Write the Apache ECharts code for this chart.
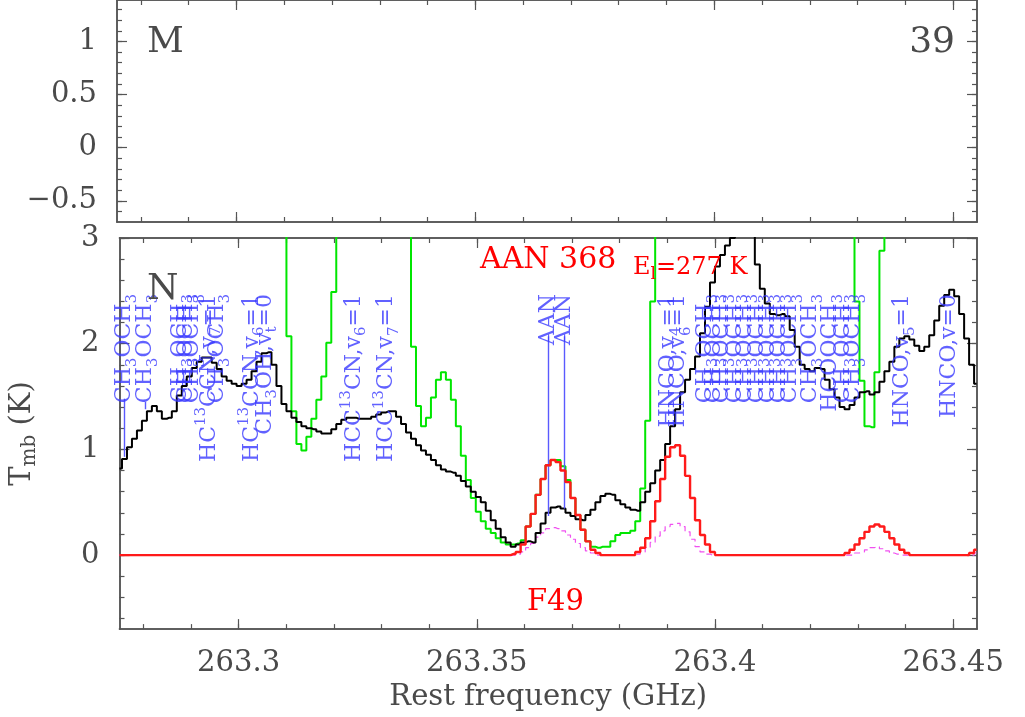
<!DOCTYPE html>
<html><head><meta charset="utf-8">
<script src="https://cdn.jsdelivr.net/npm/echarts@6/dist/echarts.min.js"></script>
<style>html,body{margin:0;padding:0;background:#fff}#c{width:1025px;height:717px}</style>
</head><body><div id="c"></div>
<script>
// ---------------- data ----------------
const channelStart = 263.275;      // GHz, first channel
const channelWidth = 0.001046;     // GHz per channel

const observed = [
0.82,0.91,1.02,1.10,1.18,1.27,1.36,1.41,1.36,1.29,
1.30,1.36,1.51,1.60,1.69,1.77,1.83,1.87,1.87,1.82,
1.76,1.69,1.65,1.62,1.60,1.62,1.66,1.74,1.83,1.91,
1.92,1.80,1.60,1.43,1.36,1.30,1.26,1.22,1.20,1.19,
1.17,1.15,1.15,1.19,1.24,1.28,1.30,1.30,1.29,1.29,
1.29,1.31,1.33,1.35,1.36,1.36,1.31,1.24,1.16,1.10,
1.04,0.99,0.95,0.90,0.85,0.81,0.79,0.78,0.75,0.70,
0.65,0.60,0.55,0.50,0.42,0.33,0.25,0.17,0.12,0.08,
0.10,0.12,0.13,0.12,0.21,0.30,0.40,0.45,0.46,0.44,
0.40,0.37,0.34,0.33,0.38,0.43,0.50,0.56,0.58,0.57,
0.52,0.48,0.45,0.43,0.42,0.50,0.60,0.68,0.80,0.90,
1.05,1.22,1.38,1.54,1.66,1.76,1.88,2.10,2.35,2.58,
2.73,2.84,2.93,3.00,3.15,3.30,3.30,3.10,2.75,2.52,
2.38,2.28,2.27,2.28,2.26,2.13,1.97,1.80,1.76,1.74,
1.77,1.76,1.66,1.57,1.49,1.40,1.38,1.42,1.49,1.54,
1.55,1.52,1.54,1.64,1.74,1.83,1.97,2.05,2.07,2.04,
1.98,1.93,1.97,2.08,2.22,2.36,2.46,2.51,2.45,2.28,
2.05,1.80,1.62];

const modelAll = [
5,5,5,5,5,5,5,5,5,5,
5,5,5,5,5,5,5,5,5,5,
5,5,5,5,5,5,5,5,5,5,
5,5,5,5,2.07,1.36,1.05,0.99,1.12,1.29,
1.47,1.69,2.01,2.49,5,5,5,5,5,5,
5,5,5,5,5,5,5,5,5,1.97,
1.41,1.22,1.30,1.49,1.66,1.73,1.66,1.47,1.22,0.94,
0.71,0.54,0.41,0.32,0.25,0.21,0.16,0.12,0.10,0.10,
0.11,0.14,0.27,0.39,0.57,0.72,0.85,0.90,0.90,0.84,
0.71,0.54,0.38,0.24,0.13,0.08,0.07,0.08,0.08,0.13,
0.19,0.21,0.21,0.23,0.32,0.63,1.27,2.40,5,5,
5,5,5,5,5,5,5,5,5,5,
5,5,5,5,5,5,5,5,5,5,
5,5,5,5,5,5,5,5,5,5,
5,5,5,5,5,5,5,5,2.40,1.65,
1.22,1.21,1.73,2.88,5,5,5,5,5,5,
5,5,5,5,5,5,5,5,5,5,
5,5,5];

const modelAAN = [
0,0,0,0,0,0,0,0,0,0,
0,0,0,0,0,0,0,0,0,0,
0,0,0,0,0,0,0,0,0,0,
0,0,0,0,0,0,0,0,0,0,
0,0,0,0,0,0,0,0,0,0,
0,0,0,0,0,0,0,0,0,0,
0,0,0,0,0,0,0,0,0,0,
0,0,0,0,0,0,0,0,0,0.01,
0.03,0.10,0.27,0.39,0.57,0.72,0.85,0.90,0.88,0.80,
0.69,0.54,0.38,0.24,0.13,0.05,0.02,0,0,0,
0,0,0,0,0.03,0.07,0.16,0.32,0.51,0.72,
0.93,1.02,1.04,0.94,0.75,0.54,0.33,0.19,0.10,0.03,
0,0,0,0,0,0,0,0,0,0,
0,0,0,0,0,0,0,0,0,0,
0,0,0,0,0,0,0.02,0.05,0.10,0.16,
0.22,0.27,0.29,0.27,0.22,0.16,0.10,0.05,0.02,0,
0,0,0,0,0,0,0,0,0,0,
0,0.02,0.05];

const modelAANdashed = [
0,0,0,0,0,0,0,0,0,0,
0,0,0,0,0,0,0,0,0,0,
0,0,0,0,0,0,0,0,0,0,
0,0,0,0,0,0,0,0,0,0,
0,0,0,0,0,0,0,0,0,0,
0,0,0,0,0,0,0,0,0,0,
0,0,0,0,0,0,0,0,0,0,
0,0,0,0,0,0,0,0,0,0,
0.01,0.03,0.07,0.11,0.17,0.21,0.25,0.26,0.25,0.23,
0.19,0.15,0.11,0.07,0.04,0.02,0,0,0,0,
0,0,0,0,0.01,0.03,0.07,0.12,0.18,0.23,
0.27,0.29,0.30,0.27,0.22,0.15,0.08,0.03,0.01,0,
0,0,0,0,0,0,0,0,0,0,
0,0,0,0,0,0,0,0,0,0,
0,0,0,0,0,0,0,0,0.02,0.03,
0.05,0.07,0.08,0.06,0.04,0.02,0.01,0,0,0,
0,0,0,0,0,0,0,0,0,0,
0,0,0.02];

// line identifications: frequency (GHz) and name (_x = subscript, ^{..} = superscript)
const lineFreqs = [263.2760,263.2804,263.2878,263.2890,263.2903,263.2938,263.2955,263.3028,263.3055,
  263.3242,263.3311,263.3650,263.3683,263.3903,263.3924,
  263.3980,263.3999,263.4016,263.4043,263.4064,263.4089,263.4112,263.4135,263.4158,
  263.4200,263.4242,263.4269,263.4290,263.4394,263.4491];
const lineNames = ['CH_3OCH_3','CH_3OCH_3','CH_3OCH_3','CH_3OCH_3','CH_3OCH_3','HC^{13}CCN,v_7=1','CH_3OCH_3',
  'HC^{13}CCN,v_6=1','CH_3OH,v_t=0',
  'HCC^{13}CN,v_6=1','HCC^{13}CN,v_7=1','AAN','AAN','HNCO,v_4=1','HNCO,v_6=1',
  'CH_3OCH_3','CH_3OCH_3','CH_3OCH_3','CH_3OCH_3','CH_3OCH_3','CH_3OCH_3','CH_3OCH_3','CH_3OCH_3','CH_3OCH_3',
  'CH_3OCH_3','HCOOCH_3','CH_3OCH_3','CH_3OCH_3','HNCO,v_5=1','HNCO,v=0'];
const labelTop = 2.47;  // K, top of the identification labels

// stems from label to spectrum
const stemFreqs = [263.2760,263.2804,263.3650,263.3683];
const stemTop = [1.48,1.45,2.07,2.07];
const stemBottom = [0.93,1.38,0.37,0.44];

const xMajorTicks = [263.3,263.35,263.4,263.45];
const xMinorTicks = [263.28,263.29,263.30,263.31,263.32,263.33,263.34,263.35,263.36,263.37,263.38,263.39,263.40,263.41,263.42,263.43,263.44,263.45];
const yMajorBottom = [0,1,2,3];
const yMinorBottom = [-0.6,-0.4,-0.2,0,0.2,0.4,0.6,0.8,1,1.2,1.4,1.6,1.8,2,2.2,2.4,2.6,2.8,3];
const yMajorTop = [-0.5,0,0.5,1];
const yMinorTop = [-0.6,-0.5,-0.4,-0.3,-0.2,-0.1,0,0.1,0.2,0.3,0.4,0.5,0.6,0.7,0.8,0.9,1,1.1,1.2,1.3];

// ---------------- chart ----------------
const X_MIN = 263.275, X_MAX = 263.455;
const FONT = '"DejaVu Serif", serif';
const AX = '#555';
const BLUE = '#3a3aff';

function richMarkup(s){
  let out='', buf='';
  for(let i=0;i<s.length;i++){
    const c=s[i];
    if(c==='_'||c==='^'){
      if(buf){out+='{n|'+buf+'}';buf='';}
      let t;
      if(s[i+1]==='{'){const j=s.indexOf('}',i+2);t=s.slice(i+2,j);i=j;}
      else {t=s[i+1];i++;}
      out+='{'+(c==='_'?'s':'p')+'|'+t+'}';
    } else buf+=c;
  }
  if(buf) out+='{n|'+buf+'}';
  return out;
}

function xAx(grid,pos,ticks,len,extra){
  return Object.assign({type:'value',gridIndex:grid,position:pos,min:X_MIN,max:X_MAX,
    axisLine:{show:true,onZero:false,lineStyle:{color:AX,width:1.5}},
    axisTick:{show:true,inside:true,length:len,customValues:ticks,lineStyle:{color:AX,width:1.2}},
    axisLabel:{show:false},splitLine:{show:false}},extra||{});
}
function yAx(grid,pos,mn,mx,ticks,len,extra){
  return Object.assign({type:'value',gridIndex:grid,position:pos,min:mn,max:mx,
    axisLine:{show:true,onZero:false,lineStyle:{color:AX,width:1.5}},
    axisTick:{show:true,inside:true,length:len,customValues:ticks,lineStyle:{color:AX,width:1.2}},
    axisLabel:{show:false},splitLine:{show:false}},extra||{});
}
const labelStyle = {fontFamily:FONT,fontSize:29,color:'#4a4a4a'};

const xAxes = [
  xAx(0,'bottom',xMajorTicks,10), xAx(0,'bottom',xMinorTicks,5),
  xAx(0,'top',xMajorTicks,10), xAx(0,'top',xMinorTicks,5),
  xAx(1,'bottom',xMajorTicks,10,{
    axisLabel:Object.assign({show:true,customValues:xMajorTicks,margin:20},labelStyle),
    name:'Rest frequency (GHz)',nameLocation:'middle',nameGap:53,
    nameTextStyle:{fontFamily:FONT,fontSize:29,color:'#4a4a4a'}}),
  xAx(1,'bottom',xMinorTicks,5),
  xAx(1,'top',xMajorTicks,10), xAx(1,'top',xMinorTicks,5)
];
const fmtY = v => String(v).replace('-','\u2212');
const yAxes = [
  yAx(0,'left',-0.7,1.39,yMajorTop,10,{axisLabel:Object.assign({show:true,customValues:yMajorTop,margin:20,formatter:fmtY},labelStyle)}),
  yAx(0,'left',-0.7,1.39,yMinorTop,5),
  yAx(0,'right',-0.7,1.39,yMajorTop,10), yAx(0,'right',-0.7,1.39,yMinorTop,5),
  yAx(1,'left',-0.7,3,yMajorBottom,10,{axisLabel:Object.assign({show:true,customValues:yMajorBottom,margin:20,formatter:fmtY},labelStyle),
    name:'{t|T}{s|mb}{t| (K)}',nameLocation:'middle',nameGap:80,
    nameTextStyle:{rich:{
      t:{fontFamily:FONT,fontSize:29,color:'#4a4a4a',lineHeight:34},
      s:{fontFamily:FONT,fontSize:20,color:'#4a4a4a',lineHeight:20,verticalAlign:'bottom'}}}}),
  yAx(1,'left',-0.7,3,yMinorBottom,5),
  yAx(1,'right',-0.7,3,yMajorBottom,10), yAx(1,'right',-0.7,3,yMinorBottom,5)
];

const toXY = arr => arr.map((v,i)=>[channelStart+i*channelWidth, v]);
const stepSeries = (name,arr,color,width,type,z) => ({
  name,type:'line',xAxisIndex:4,yAxisIndex:4,step:'middle',symbol:'none',clip:true,
  data:toXY(arr),lineStyle:{color,width,type},z,silent:true});

const labelData = lineFreqs.map((f,i)=>({value:[f,labelTop],
  label:{formatter:richMarkup(lineNames[i])}}));

const option = {
  animation:false,
  backgroundColor:'#fff',
  grid:[
    {left:117,width:860,top:0,height:222},
    {left:117,width:860,top:238,height:394}
  ],
  xAxis:xAxes,
  yAxis:yAxes,
  series:[
    stepSeries('AAN v-alt',modelAANdashed,'#f050f0',1.2,[6,4],2),
    stepSeries('model all',modelAll,'#00e600',2,'solid',3),
    stepSeries('observed',observed,'#000',2,'solid',4),
    stepSeries('AAN',modelAAN,'#ff1a1a',2.4,'solid',5),
    {type:'scatter',xAxisIndex:4,yAxisIndex:4,symbolSize:0.01,itemStyle:{color:'rgba(0,0,0,0)'},
     silent:true,z:6,clip:false,
     data:labelData,
     label:{show:true,position:[0,0],rotate:90,align:'right',verticalAlign:'middle',
       rich:{
         n:{fontFamily:FONT,fontSize:22,color:BLUE,lineHeight:30},
         s:{fontFamily:FONT,fontSize:15,color:BLUE,lineHeight:15,verticalAlign:'bottom'},
         p:{fontFamily:FONT,fontSize:15,color:BLUE,lineHeight:15,verticalAlign:'top'}}},
     markLine:{silent:true,symbol:['none','none'],animation:false,label:{show:false},
       lineStyle:{color:'#5a5aff',width:1.4,type:'solid',opacity:1},
       emphasis:{disabled:true},
       data:stemFreqs.map((f,i)=>[
         {coord:[f,stemTop[i]],lineStyle:{color:'#5a5aff',width:1.4,type:'solid'}},
         {coord:[f,stemBottom[i]]}])}
    }
  ],
  graphic:[
    {type:'text',x:147,y:25,style:{text:'M',font:'36px "DejaVu Serif"',fill:'#4a4a4a'}},
    {type:'text',x:955,y:25,style:{text:'39',font:'36px "DejaVu Serif"',fill:'#4a4a4a',textAlign:'right'}},
    {type:'text',x:147,y:272,z:10,style:{text:'N',font:'36px "DejaVu Serif"',fill:'#4a4a4a'}},
    {type:'text',x:480,y:245,z:10,style:{text:'AAN 368',font:'30px "DejaVu Serif"',fill:'#ff0000'}},
    {type:'text',x:633,y:253,z:10,style:{text:'{e|E}{s|l}{e|=277 K}',rich:{
      e:{fontFamily:FONT,fontSize:24,fill:'#ff0000',lineHeight:30},
      s:{fontFamily:FONT,fontSize:17,fill:'#ff0000',lineHeight:17,verticalAlign:'bottom'}}}},
    {type:'text',x:527,y:588,z:10,style:{text:'F49',font:'29px "DejaVu Serif"',fill:'#ff0000'}}
  ]
};
const chart = echarts.init(document.getElementById('c'),null,{renderer:'canvas'});
chart.setOption(option);
</script>
</body></html>
